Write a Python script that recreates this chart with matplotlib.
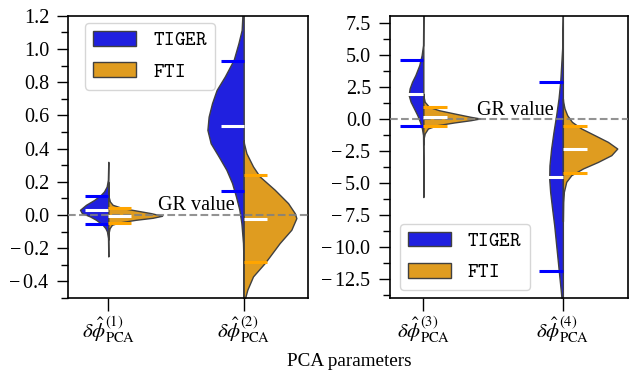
import colorsys
import matplotlib
matplotlib.use("Agg")
import matplotlib.pyplot as plt
from matplotlib.patches import Patch
from matplotlib.ticker import AutoMinorLocator, FuncFormatter
from matplotlib.font_manager import FontProperties

plt.rcParams['font.family'] = ['Liberation Serif', 'DejaVu Serif']
plt.rcParams['mathtext.fontset'] = 'stix'

# ---------------- data ----------------
series = ["TIGER", "FTI"]
params_left = [r"$\delta\hat{\phi}^{(1)}_{\rm PCA}$", r"$\delta\hat{\phi}^{(2)}_{\rm PCA}$"]
params_right = [r"$\delta\hat{\phi}^{(3)}_{\rm PCA}$", r"$\delta\hat{\phi}^{(4)}_{\rm PCA}$"]
yticks_left = [-0.4, -0.2, 0.0, 0.2, 0.4, 0.6, 0.8, 1.0, 1.2]
yticks_right = [-12.5, -10.0, -7.5, -5.0, -2.5, 0.0, 2.5, 5.0, 7.5]

# violin half-profiles: y values and half-widths
v1_tiger_y = [0.32, 0.212, 0.171, 0.141, 0.122, 0.091, 0.061, 0.031, 0.011, -0.009, -0.029, -0.059, -0.079, -0.099, -0.139, -0.25]
v1_tiger_w = [0, 0.003, 0.012, 0.032, 0.054, 0.103, 0.165, 0.209, 0.195, 0.135, 0.091, 0.042, 0.022, 0.010, 0.002, 0]
v1_fti_y = [0.2, 0.111, 0.081, 0.061, 0.041, 0.027, 0.011, -0.005, -0.017, -0.029, -0.045, -0.059, -0.079, -0.109, -0.15]
v1_fti_w = [0, 0.002, 0.012, 0.032, 0.106, 0.204, 0.315, 0.397, 0.328, 0.204, 0.081, 0.027, 0.010, 0.002, 0]

v2_tiger_y = [1.35, 1.194, 1.114, 1.034, 0.934, 0.833, 0.753, 0.673, 0.592, 0.512, 0.432, 0.352, 0.272, 0.192, 0.111, 0.031, -0.049, -0.169, -0.3, -0.55]
v2_tiger_w = [0, 0.010, 0.015, 0.039, 0.074, 0.140, 0.200, 0.234, 0.259, 0.268, 0.244, 0.185, 0.128, 0.086, 0.057, 0.032, 0.017, 0.005, 0.001, 0]
v2_fti_y = [0.45, 0.432, 0.372, 0.292, 0.232, 0.152, 0.071, 0.011, -0.019, -0.089, -0.169, -0.250, -0.290, -0.370, -0.450, -0.510, -0.55]
v2_fti_w = [0, 0.002, 0.020, 0.069, 0.118, 0.229, 0.328, 0.377, 0.389, 0.352, 0.266, 0.192, 0.155, 0.069, 0.027, 0.007, 0]

v3_tiger_y = [8.5, 5.80, 5.02, 4.23, 3.45, 2.92, 2.41, 1.88, 1.36, 0.84, 0.31, -0.21, -0.73, -1.25, -3.0, -6.1]
v3_tiger_w = [0, 0.002, 0.012, 0.029, 0.057, 0.081, 0.098, 0.105, 0.091, 0.067, 0.043, 0.024, 0.010, 0.002, 0.0005, 0]
v3_fti_y = [2.0, 1.75, 1.36, 0.96, 0.70, 0.45, 0.18, 0.055, -0.08, -0.26, -0.47, -0.73, -1.12, -1.51, -2.0]
v3_fti_w = [0, 0.002, 0.010, 0.041, 0.112, 0.220, 0.340, 0.407, 0.340, 0.220, 0.100, 0.033, 0.010, 0.002, 0]

v4_tiger_y = [8.5, 5.54, 4.23, 2.92, 1.62, 0.31, -0.99, -2.30, -3.61, -4.65, -5.70, -7.00, -8.31, -9.62, -10.92, -12.23, -13.53, -14.5]
v4_tiger_w = [0, 0.005, 0.012, 0.019, 0.031, 0.048, 0.067, 0.084, 0.096, 0.098, 0.091, 0.077, 0.062, 0.050, 0.038, 0.026, 0.014, 0.006]
v4_fti_y = [1.6, 1.36, 0.84, 0.31, -0.21, -0.73, -1.25, -1.78, -2.30, -2.82, -3.35, -3.86, -4.39, -4.91, -5.70, -6.48, -8.0]
v4_fti_w = [0, 0.002, 0.012, 0.031, 0.065, 0.132, 0.227, 0.323, 0.390, 0.347, 0.251, 0.144, 0.060, 0.024, 0.007, 0.002, 0]

# quantiles: (5%, median, 95%)
q1_tiger = [-0.053, 0.031, 0.115]
q1_fti = [-0.049, -0.005, 0.039]
q2_tiger = [0.145, 0.536, 0.927]
q2_fti = [-0.284, -0.025, 0.238]
q3_tiger = [-0.53, 1.98, 4.60]
q3_fti = [-0.50, 0.18, 0.96]
q4_tiger = [-11.9, -4.55, 2.90]
q4_fti = [-4.19, -2.33, -0.50]

gr_value = 0.0

# ---------------- style ----------------
def desat(rgb, s=0.75):
    h, l, sat = colorsys.rgb_to_hls(*rgb)
    return colorsys.hls_to_rgb(h, l, sat * s)

c_tiger_line = (0.0, 0.0, 1.0)
c_fti_line = (1.0, 0.647, 0.0)
c_tiger = desat(c_tiger_line)
c_fti = desat(c_fti_line)
edge = '#404040'

fig = plt.figure(figsize=(6.29, 3.71), dpi=100)
axL = fig.add_axes([0.1089, 0.1968, 0.3812, 0.7609])
axR = fig.add_axes([0.6200, 0.1968, 0.3789, 0.7609])

qlen = 0.17

def draw_violin(ax, x0, ty, tw, fy, fw, qt, qf):
    ax.fill_betweenx(ty, [x0 - w for w in tw], x0, facecolor=c_tiger,
                     edgecolor=edge, linewidth=1.0, zorder=2)
    ax.fill_betweenx(fy, x0, [x0 + w for w in fw], facecolor=c_fti,
                     edgecolor=edge, linewidth=1.0, zorder=2)
    ax.hlines([qt[0], qt[2]], x0 - qlen, x0, colors=[c_tiger_line], lw=2.2, zorder=4)
    ax.hlines([qt[1]], x0 - qlen, x0, colors='white', lw=2.2, zorder=4)
    ax.hlines([qf[0], qf[2]], x0, x0 + qlen, colors=[c_fti_line], lw=2.2, zorder=4)
    ax.hlines([qf[1]], x0, x0 + qlen, colors='white', lw=2.2, zorder=4)

draw_violin(axL, 0, v1_tiger_y, v1_tiger_w, v1_fti_y, v1_fti_w, q1_tiger, q1_fti)
draw_violin(axL, 1, v2_tiger_y, v2_tiger_w, v2_fti_y, v2_fti_w, q2_tiger, q2_fti)
draw_violin(axR, 0, v3_tiger_y, v3_tiger_w, v3_fti_y, v3_fti_w, q3_tiger, q3_fti)
draw_violin(axR, 1, v4_tiger_y, v4_tiger_w, v4_fti_y, v4_fti_w, q4_tiger, q4_fti)

axL.set_xlim(-0.294, 1.477)
axL.set_ylim(-0.5, 1.2)
axR.set_xlim(-0.239, 1.469)
axR.set_ylim(-14.0, 8.1)
axL.set_yticks(yticks_left)
axR.set_yticks(yticks_right)

def tick_fmt(v, pos):
    s = f"{abs(v):.1f}"
    if v < -1e-9:
        return "\u2212" + r"$\hspace{0.22}$" + s
    return s

for ax, labels in ((axL, params_left), (axR, params_right)):
    ax.axhline(gr_value, color='gray', ls='--', lw=1.5, alpha=0.85, zorder=3)
    ax.set_xticks([0, 1])
    ax.set_xticklabels(labels, fontsize=15)
    ax.yaxis.set_major_formatter(FuncFormatter(tick_fmt))
    ax.yaxis.set_minor_locator(AutoMinorLocator(2))
    ax.tick_params(axis='y', which='major', length=8, width=1.0, labelsize=14.5, pad=5.5)
    ax.tick_params(axis='y', which='minor', length=5, width=1.0)
    ax.tick_params(axis='x', which='major', length=9, width=1.0, pad=3)
    for sp in ax.spines.values():
        sp.set_linewidth(1.2)

axL.text(0.367, 0.027, "GR value", fontsize=14.5, ha='left', va='baseline', zorder=5)
axR.text(0.383, 0.36, "GR value", fontsize=14.5, ha='left', va='baseline', zorder=5)

handles = [Patch(facecolor=c_tiger, edgecolor=edge, linewidth=1.0),
           Patch(facecolor=c_fti, edgecolor=edge, linewidth=1.0)]
labels = [r"$\mathtt{" + s + "}$" for s in series]
lprop = FontProperties(size=14.5, math_fontfamily='cm')
leg_kw = dict(prop=lprop, handlelength=2.15, handleheight=0.75, handletextpad=0.82,
              labelspacing=0.6, borderpad=0.38, borderaxespad=0.0)
axL.legend(handles, labels, loc='upper left', bbox_to_anchor=(0.069, 0.973), **leg_kw)
axR.legend(handles, labels, loc='lower left', bbox_to_anchor=(0.042, 0.028), **leg_kw)

fig.text(0.555, 0.0143, "PCA parameters", fontsize=13.8, ha='center', va='baseline')

fig.savefig("out.png", dpi=100)
